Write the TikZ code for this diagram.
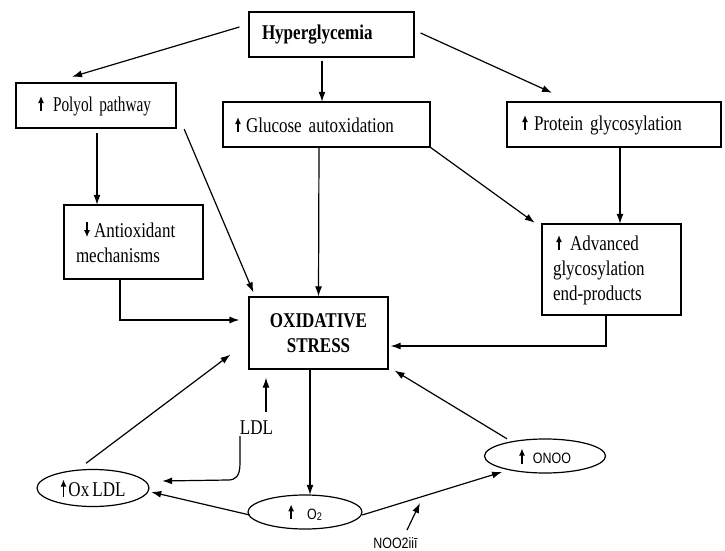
\documentclass[tikz,border=0pt]{standalone}
\usepackage{fontspec}
\setmainfont{Liberation Serif}[FakeStretch=0.81,WordSpace=0.75]
\newfontfamily\sansf{Liberation Sans}[FakeStretch=0.83]
\usetikzlibrary{arrows.meta,calc,shapes.geometric}
\newcommand\uarr[1][15]{\tikz[baseline=0pt,x=1pt,y=1pt]\draw[line width=1.3pt,-{Latex[length=7pt,width=6pt]}] (0,0)--(0,#1);}
\newcommand\darr[1][15]{\tikz[baseline=0pt,x=1pt,y=1pt]\draw[line width=1.3pt,-{Latex[length=7pt,width=6pt]}] (0,#1)--(0,0);}
\begin{document}
\begin{tikzpicture}[x=1pt,y=-1pt,line width=1.2pt,
  arr/.style={-{Latex[length=10pt,width=7pt]}},
  box/.style={draw, rectangle, inner ysep=0pt, minimum height=45pt, font=\fontsize{21}{25}\selectfont, align=left},
  ell/.style={draw, ellipse, inner sep=0pt},
  serif/.style={font=\fontsize{21}{25}\selectfont},
  sans/.style={font=\sansf\fontsize{15}{18}\selectfont}]
\fill[white] (0,0) rectangle (725,551);
\useasboundingbox (0,0) rectangle (725,551);

\node[box, text width=139pt, inner xsep=13pt, font=\bfseries\fontsize{21}{25}\selectfont] (hyp) at (331.5,34.5) {Hyperglycemia};
\node[box, text width=116pt, inner xsep=22pt] (polyol) at (96,105.5) {\mbox{\uarr\hspace{9pt}\scalebox{0.9}[1]{Polyol pathway}}};
\node[box, text width=183pt, inner xsep=12pt] (gluc) at (326.5,124.5) {\mbox{\uarr\hspace{5pt}Glucose autoxidation}};
\node[box, text width=184pt, inner xsep=15pt] (prot) at (614,124.5) {\mbox{\uarr\hspace{6pt}Protein glycosylation}};
\node[box, text width=115pt, inner xsep=12pt, minimum height=74pt] (antiox) at (133.5,242) {\hspace*{8pt}\darr\hspace{4pt}Antioxidant\\mechanisms};
\node[box, text width=117pt, inner xsep=11pt, minimum height=91pt] (adv) at (611.5,269.5) {\hspace*{3pt}\uarr\hspace{8pt}Advanced\\glycosylation\\end-products};
\node[box, text width=117pt, inner xsep=11pt, minimum height=72pt, align=center, font=\bfseries\fontsize{21}{25}\selectfont] (os) at (318.5,333) {OXIDATIVE\\STRESS};

\node[ell, serif, minimum width=112pt, minimum height=37pt] (oxldl) at (93,488) {\uarr[17]\hspace{2pt}Ox LDL};
\node[ell, sans, minimum width=114pt, minimum height=34pt] (o2) at (305,512) {\uarr[15]\hspace{13pt}O\raisebox{-1pt}{\fontsize{11}{11}\selectfont 2}\hspace{13pt}};
\node[ell, sans, minimum width=121pt, minimum height=34pt] (onoo) at (545,456) {\uarr[15]\hspace{8pt}ONOO\hspace{12pt}};
\node[serif, inner sep=0pt] (ldl) at (256.5,428) {LDL};
\node[sans, inner sep=0pt] (noo) at (395.5,543) {NOO2iiī};
\coordinate (nootip) at (420,503);

\draw[arr] ($(hyp.west)+(-9,-7.5)$) -- ($(polyol.north)+(-24,-6)$);
\draw[arr] ($(hyp.south)+(-9.5,3)$) -- ($(gluc.north)+(-4.5,0)$);
\draw[arr] ($(hyp.east)+(6,-1.5)$) -- ($(prot.north)+(-62,-9)$);
\draw[arr] ($(polyol.south)+(1,5)$) -- ($(antiox.north)+(-36.5,0)$);
\draw[arr] ($(polyol.south east)+(8,1)$) -- ($(os.north west)+(5,-4)$);
\draw[arr] ($(gluc.south)+(-7.5,0)$) -- (os.north);
\draw[arr] (gluc.south east) -- ($(adv.north west)+(-7,-1)$);
\draw[arr] ($(prot.south)+(6,0)$) -- ($(adv.north)+(8.5,0)$);
\draw[arr] ($(antiox.south)+(-13.5,0)$) |- ($(os.west)+(-9,-13)$);
\draw[arr] ($(adv.south)+(-5.5,0)$) |- ($(os.east)+(2,13)$);
\draw[arr] ($(oxldl.north)+(-7,-6)$) -- ($(os.south west)+(-18,-15)$);
\draw[arr] ($(ldl.center)+(9.5,-16)$) -- ($(os.south)+(-52.5,8)$);
\draw[arr] ($(ldl.center)+(-16.5,8)$) -- (240,463) .. controls (240,476) and (236,480) .. (228,480) -- ($(oxldl.east)+(13,-7)$);
\draw[arr] ($(os.south)+(-8.5,0)$) -- ($(o2.north)+(5,0)$);
\draw[arr] ($(o2.west)+(2,3)$) -- ($(oxldl.east)+(2,4)$);
\draw[arr] ($(o2.east)+(0,3)$) -- ($(onoo.center)+(-43,16)$);
\draw[arr] ($(noo.center)+(11.5,-13)$) -- (nootip);
\draw[arr] ($(onoo.north)+(-38,0)$) -- ($(os.south east)+(6,1)$);
\end{tikzpicture}
\end{document}
